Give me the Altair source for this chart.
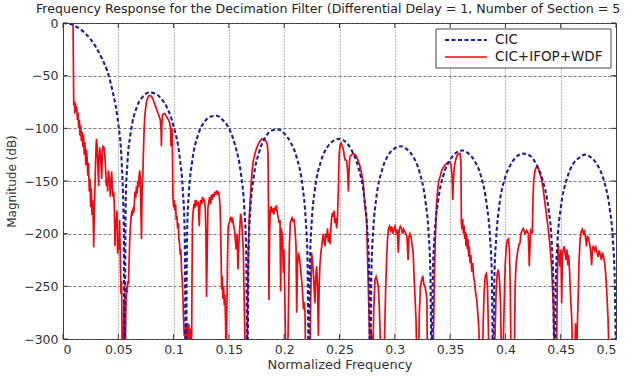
import altair as alt
import pandas as pd

# ---------------------------------------------------------------
# CIC decimator response (5 sections, differential delay 1), dB.
# Values below -300 dB run off the bottom of the axes.
# ---------------------------------------------------------------
cic_main = [(0.0000, 0.0), (0.0050, -0.6), (0.0100, -2.4), (0.0150, -5.4), (0.0200, -9.7),
            (0.0250, -15.6), (0.0300, -23.2), (0.0350, -33.3), (0.0400, -45.5),
            (0.0450, -65.6), (0.0500, -96), (0.0530, -131), (0.0550, -199)]
cic_lobe1 = [(0.0556, -330), (0.0567, -170), (0.0583, -132), (0.0611, -105), (0.0667, -80),
             (0.0722, -70), (0.0778, -66), (0.0833, -67), (0.0889, -72), (0.0944, -81),
             (0.1000, -98), (0.1056, -128), (0.1083, -158), (0.1100, -198)]
cic_lobe2 = [(0.1111, -330), (0.1122, -199), (0.1139, -160), (0.1167, -132), (0.1222, -106),
             (0.1278, -94), (0.1333, -89), (0.1389, -88), (0.1444, -92), (0.1500, -100),
             (0.1556, -116), (0.1611, -145), (0.1639, -175), (0.1656, -215)]
cic_lobe3 = [(0.1667, -330), (0.1678, -216), (0.1694, -177), (0.1722, -148), (0.1778, -121),
             (0.1833, -108), (0.1889, -102), (0.1944, -101), (0.2000, -105), (0.2056, -113),
             (0.2111, -127), (0.2167, -156), (0.2194, -186), (0.2211, -226)]
cic_lobe4 = [(0.2222, -330), (0.2233, -227), (0.2250, -187), (0.2278, -158), (0.2333, -131),
             (0.2389, -118), (0.2444, -112), (0.2500, -110), (0.2556, -113), (0.2611, -121),
             (0.2667, -136), (0.2722, -164), (0.2750, -194), (0.2767, -234)]
cic_lobe5 = [(0.2778, -330), (0.2789, -234), (0.2806, -195), (0.2833, -166), (0.2889, -138),
             (0.2944, -125), (0.3000, -119), (0.3056, -117), (0.3111, -120), (0.3167, -127),
             (0.3222, -141), (0.3278, -170), (0.3306, -200), (0.3322, -239)]
cic_lobe6 = [(0.3333, -330), (0.3344, -239), (0.3361, -200), (0.3389, -171), (0.3444, -143),
             (0.3500, -130), (0.3556, -123), (0.3611, -121), (0.3667, -124), (0.3722, -131),
             (0.3778, -145), (0.3833, -174), (0.3861, -203), (0.3878, -243)]
cic_lobe7 = [(0.3889, -330), (0.3900, -243), (0.3917, -204), (0.3944, -174), (0.4000, -146),
             (0.4056, -133), (0.4111, -126), (0.4167, -124), (0.4222, -126), (0.4278, -134),
             (0.4333, -148), (0.4389, -176), (0.4417, -205), (0.4433, -245)]
cic_lobe8 = [(0.4444, -330), (0.4456, -245), (0.4472, -206), (0.4500, -176), (0.4556, -148),
             (0.4611, -134), (0.4667, -128), (0.4722, -125), (0.4778, -128), (0.4833, -135),
             (0.4889, -149), (0.4944, -177), (0.4972, -206), (0.4989, -246), (0.5000, -330)]

# ---------------------------------------------------------------
# CIC + IFOP + WDF cascade response, dB (measured trace)
# ---------------------------------------------------------------
cas_band1 = [(0.0000, 0), (0.0085, 0), (0.0091, -2), (0.0094, -40), (0.0097, -78), (0.0102, -74),
             (0.0107, -86), (0.0112, -76), (0.0118, -84), (0.0124, -79), (0.0130, -92),
             (0.0136, -85), (0.0142, -100), (0.0148, -92), (0.0154, -107), (0.0160, -97),
             (0.0166, -112), (0.0172, -103), (0.0180, -118), (0.0186, -106), (0.0192, -125),
             (0.0198, -113), (0.0206, -135), (0.0212, -120), (0.0218, -128), (0.0224, -145),
             (0.0230, -133), (0.0238, -160), (0.0244, -148), (0.0250, -175), (0.0256, -157),
             (0.0262, -182), (0.0268, -168), (0.0274, -190), (0.0278, -213), (0.0282, -185),
             (0.0288, -160), (0.0293, -138), (0.0298, -120), (0.0303, -110), (0.0308, -116),
             (0.0313, -130), (0.0318, -142), (0.0322, -155), (0.0326, -128), (0.0332, -118),
             (0.0338, -124), (0.0344, -135), (0.0350, -148), (0.0356, -122), (0.0362, -117),
             (0.0370, -118), (0.0378, -125), (0.0386, -140), (0.0392, -155), (0.0398, -148),
             (0.0404, -160), (0.0410, -140), (0.0416, -145), (0.0422, -150), (0.0428, -165),
             (0.0434, -150), (0.0440, -141), (0.0446, -155), (0.0452, -165), (0.0458, -160),
             (0.0464, -172), (0.0470, -212), (0.0476, -185), (0.0482, -195), (0.0488, -178),
             (0.0494, -219), (0.0500, -205), (0.0506, -215), (0.0512, -187), (0.0518, -225),
             (0.0524, -257), (0.0530, -245), (0.0536, -330), (0.0546, -330), (0.0551, -262),
             (0.0556, -330)]
cas_band2 = [(0.0562, -330), (0.0568, -275), (0.0574, -250), (0.0580, -256), (0.0586, -245),
             (0.0592, -248), (0.0598, -225), (0.0604, -205), (0.0610, -192), (0.0616, -185),
             (0.0622, -178), (0.0628, -183), (0.0634, -175), (0.0640, -180), (0.0646, -168),
             (0.0652, -160), (0.0658, -166), (0.0664, -155), (0.0670, -162), (0.0676, -150),
             (0.0682, -156), (0.0688, -145), (0.0694, -140), (0.0700, -150), (0.0706, -185),
             (0.0710, -205), (0.0714, -170), (0.0718, -150), (0.0722, -145), (0.0728, -120),
             (0.0734, -100), (0.0740, -88), (0.0748, -80), (0.0756, -74), (0.0766, -71),
             (0.0778, -69), (0.0790, -69), (0.0802, -70), (0.0812, -72), (0.0822, -75),
             (0.0832, -78), (0.0844, -81), (0.0856, -85), (0.0868, -88), (0.0880, -92),
             (0.0886, -100), (0.0890, -117), (0.0894, -95), (0.0900, -87), (0.0910, -86),
             (0.0920, -86), (0.0930, -88), (0.0942, -90), (0.0954, -92), (0.0966, -95),
             (0.0972, -100), (0.0976, -117), (0.0980, -103), (0.0986, -100), (0.0990, -130),
             (0.0994, -165), (0.1000, -175), (0.1006, -168), (0.1012, -178), (0.1018, -172),
             (0.1024, -187), (0.1030, -183), (0.1036, -195), (0.1042, -190), (0.1048, -205),
             (0.1054, -210), (0.1060, -220), (0.1066, -215), (0.1072, -235), (0.1078, -244),
             (0.1084, -260), (0.1090, -280), (0.1096, -297), (0.1102, -290), (0.1108, -330)]
cas_band3 = [(0.1114, -288), (0.1120, -330), (0.1126, -285), (0.1132, -292), (0.1138, -286),
             (0.1146, -330), (0.1154, -290), (0.1162, -330), (0.1166, -250), (0.1170, -190),
             (0.1176, -180), (0.1184, -172), (0.1190, -176), (0.1196, -168), (0.1202, -174),
             (0.1210, -170), (0.1218, -172), (0.1224, -171), (0.1232, -193), (0.1238, -175),
             (0.1246, -168), (0.1254, -172), (0.1262, -165), (0.1270, -170), (0.1278, -167),
             (0.1286, -175), (0.1292, -200), (0.1298, -260), (0.1304, -215), (0.1310, -176),
             (0.1318, -170), (0.1326, -165), (0.1334, -172), (0.1342, -163), (0.1350, -168),
             (0.1358, -162), (0.1366, -165), (0.1374, -160), (0.1382, -163), (0.1390, -159),
             (0.1398, -163), (0.1406, -160), (0.1414, -166), (0.1420, -174), (0.1426, -200),
             (0.1434, -253), (0.1440, -240), (0.1446, -262), (0.1452, -250), (0.1458, -268),
             (0.1464, -258), (0.1470, -285), (0.1476, -330), (0.1482, -270), (0.1488, -220),
             (0.1494, -193), (0.1502, -190), (0.1510, -187), (0.1518, -184), (0.1526, -188),
             (0.1534, -186), (0.1542, -192), (0.1550, -196), (0.1558, -206), (0.1566, -215),
             (0.1574, -200), (0.1582, -234), (0.1590, -210), (0.1598, -195), (0.1606, -181),
             (0.1614, -186), (0.1622, -200), (0.1630, -215), (0.1636, -250), (0.1642, -285),
             (0.1650, -330)]
cas_band4 = [(0.1664, -330), (0.1670, -260), (0.1676, -215), (0.1684, -185), (0.1692, -170),
             (0.1700, -155), (0.1710, -140), (0.1722, -130), (0.1736, -124), (0.1750, -119),
             (0.1766, -115), (0.1782, -112), (0.1798, -110), (0.1812, -110), (0.1826, -111),
             (0.1840, -113), (0.1848, -116), (0.1854, -125), (0.1858, -180), (0.1862, -263),
             (0.1868, -200), (0.1874, -178), (0.1882, -174), (0.1890, -180), (0.1898, -176),
             (0.1906, -182), (0.1914, -175), (0.1922, -178), (0.1930, -173), (0.1938, -180),
             (0.1946, -185), (0.1954, -190), (0.1962, -187), (0.1968, -255), (0.1974, -195),
             (0.1980, -200), (0.1986, -205), (0.1992, -237), (0.1998, -215), (0.2004, -250),
             (0.2010, -290), (0.2016, -330), (0.2030, -330), (0.2040, -260), (0.2047, -210),
             (0.2055, -190), (0.2063, -187), (0.2071, -185), (0.2079, -188), (0.2089, -187),
             (0.2098, -196), (0.2107, -212), (0.2113, -275), (0.2120, -230), (0.2128, -218),
             (0.2136, -222), (0.2143, -228), (0.2150, -236), (0.2158, -244), (0.2166, -255),
             (0.2174, -272), (0.2181, -265), (0.2188, -275), (0.2195, -330)]
cas_band5 = [(0.2233, -330), (0.2240, -260), (0.2248, -218), (0.2255, -225), (0.2263, -237),
             (0.2270, -250), (0.2278, -266), (0.2285, -240), (0.2294, -231), (0.2301, -250),
             (0.2309, -297), (0.2316, -250), (0.2324, -228), (0.2332, -218), (0.2339, -212),
             (0.2347, -205), (0.2354, -200), (0.2362, -208), (0.2369, -212), (0.2377, -200),
             (0.2384, -204), (0.2392, -195), (0.2399, -208), (0.2407, -200), (0.2414, -210),
             (0.2421, -195), (0.2429, -185), (0.2437, -180), (0.2444, -184), (0.2452, -178),
             (0.2459, -190), (0.2467, -185), (0.2474, -195), (0.2482, -185), (0.2489, -160),
             (0.2497, -125), (0.2505, -116), (0.2514, -114), (0.2525, -117), (0.2535, -120),
             (0.2543, -126), (0.2550, -130), (0.2558, -130), (0.2565, -131), (0.2573, -140),
             (0.2580, -160), (0.2588, -135), (0.2595, -127), (0.2610, -125), (0.2625, -124),
             (0.2640, -125), (0.2655, -127), (0.2670, -131), (0.2685, -136), (0.2700, -143),
             (0.2715, -152), (0.2730, -174), (0.2745, -187), (0.2752, -215), (0.2760, -250),
             (0.2768, -280), (0.2776, -330)]
cas_band6 = [(0.2784, -290), (0.2792, -300), (0.2800, -330), (0.2810, -270), (0.2821, -244),
             (0.2831, -241), (0.2841, -245), (0.2851, -250), (0.2860, -270), (0.2866, -290),
             (0.2874, -330), (0.2900, -330), (0.2911, -282), (0.2918, -250), (0.2926, -225),
             (0.2934, -205), (0.2942, -196), (0.2952, -193), (0.2962, -197), (0.2972, -193),
             (0.2982, -200), (0.2992, -196), (0.3002, -193), (0.3012, -199), (0.3022, -196),
             (0.3032, -218), (0.3040, -196), (0.3050, -193), (0.3060, -195), (0.3070, -200),
             (0.3080, -196), (0.3090, -198), (0.3100, -200), (0.3110, -203), (0.3120, -225),
             (0.3128, -203), (0.3137, -200), (0.3146, -203), (0.3156, -210), (0.3166, -218),
             (0.3176, -245), (0.3184, -263), (0.3192, -282), (0.3200, -330), (0.3213, -330),
             (0.3222, -276), (0.3232, -250), (0.3243, -244), (0.3253, -240), (0.3263, -248),
             (0.3273, -250), (0.3283, -256), (0.3290, -262), (0.3296, -330)]
cas_band7 = [(0.3345, -330), (0.3352, -280), (0.3360, -230), (0.3368, -200), (0.3376, -175),
             (0.3386, -160), (0.3396, -150), (0.3409, -146), (0.3424, -140), (0.3439, -137),
             (0.3454, -135), (0.3469, -133), (0.3484, -132), (0.3499, -132), (0.3510, -136),
             (0.3518, -145), (0.3524, -168), (0.3530, -150), (0.3538, -137), (0.3550, -130),
             (0.3562, -126), (0.3576, -124), (0.3590, -124), (0.3598, -133), (0.3602, -190),
             (0.3608, -196), (0.3614, -186), (0.3620, -200), (0.3626, -192), (0.3632, -205),
             (0.3638, -198), (0.3644, -212), (0.3650, -200), (0.3656, -215), (0.3662, -205),
             (0.3668, -222), (0.3674, -212), (0.3680, -228), (0.3688, -220), (0.3696, -236),
             (0.3704, -228), (0.3712, -240), (0.3720, -245), (0.3730, -255), (0.3740, -262),
             (0.3750, -275), (0.3760, -290), (0.3768, -330), (0.3790, -330), (0.3800, -282),
             (0.3808, -255), (0.3818, -240), (0.3828, -238), (0.3838, -250), (0.3846, -290),
             (0.3852, -330), (0.3870, -330), (0.3880, -300), (0.3890, -330)]
cas_band8 = [(0.3900, -310), (0.3906, -297), (0.3916, -255), (0.3926, -238), (0.3936, -234),
             (0.3946, -244), (0.3956, -265), (0.3966, -330), (0.3976, -330), (0.3988, -270),
             (0.3998, -230), (0.4008, -212), (0.4018, -206), (0.4028, -205), (0.4036, -215),
             (0.4044, -250), (0.4052, -330), (0.4080, -330), (0.4088, -250), (0.4096, -230),
             (0.4104, -222), (0.4114, -215), (0.4124, -210), (0.4132, -209), (0.4140, -200),
             (0.4150, -197), (0.4162, -195), (0.4177, -200), (0.4192, -197), (0.4207, -200),
             (0.4216, -231), (0.4228, -197), (0.4243, -200), (0.4250, -165), (0.4256, -149),
             (0.4268, -140), (0.4283, -136), (0.4298, -138), (0.4313, -143), (0.4328, -149),
             (0.4343, -159), (0.4358, -171), (0.4373, -184), (0.4388, -196), (0.4404, -212),
             (0.4419, -234), (0.4434, -272), (0.4443, -330)]
cas_band9 = [(0.4458, -330), (0.4464, -300), (0.4470, -240), (0.4478, -210), (0.4486, -222),
             (0.4494, -231), (0.4502, -215), (0.4509, -266), (0.4516, -220), (0.4524, -215),
             (0.4532, -212), (0.4540, -218), (0.4548, -225), (0.4556, -215), (0.4564, -230),
             (0.4572, -220), (0.4580, -235), (0.4590, -260), (0.4600, -282), (0.4610, -330),
             (0.4624, -330), (0.4634, -285), (0.4642, -330), (0.4650, -290), (0.4658, -260),
             (0.4666, -225), (0.4676, -205), (0.4686, -198), (0.4696, -196), (0.4706, -200),
             (0.4716, -198), (0.4726, -205), (0.4734, -212), (0.4742, -202), (0.4752, -205),
             (0.4762, -210), (0.4772, -218), (0.4780, -230), (0.4788, -213), (0.4798, -212),
             (0.4808, -216), (0.4818, -213), (0.4828, -218), (0.4838, -222), (0.4848, -216),
             (0.4858, -220), (0.4868, -225), (0.4878, -218), (0.4888, -222), (0.4898, -228),
             (0.4908, -240), (0.4918, -258), (0.4928, -280), (0.4940, -330), (0.5000, -330)]

series_names = ["CIC", "CIC+IFOP+WDF"]
x_ticks = [0, 0.05, 0.1, 0.15, 0.2, 0.25, 0.3, 0.35, 0.4, 0.45, 0.5]
y_ticks = [0, -50, -100, -150, -200, -250, -300]

TITLE = ("Frequency Response for the Decimation Filter "
         "(Differential Delay = 1, Number of Section = 5")

BLUE = "#1b1f9a"
RED = "#ee0a12"
FONT = "DejaVu Sans"
W, H = 553, 316

cic_df = pd.DataFrame(cic_main + cic_lobe1 + cic_lobe2 + cic_lobe3 + cic_lobe4
                      + cic_lobe5 + cic_lobe6 + cic_lobe7 + cic_lobe8,
                      columns=["freq", "db"])
cas_df = pd.DataFrame(cas_band1 + cas_band2 + cas_band3 + cas_band4 + cas_band5
                      + cas_band6 + cas_band7 + cas_band8 + cas_band9,
                      columns=["freq", "db"])
xt_df = pd.DataFrame({"freq": x_ticks})
yt_df = pd.DataFrame({"db": y_ticks})
one_row = xt_df.head(1)

x_scale = alt.Scale(domain=[0, 0.5], nice=False, zero=False)
y_scale = alt.Scale(domain=[-300, 0], nice=False, zero=False)

axis_text = dict(labelFont=FONT, labelFontSize=12.5, labelColor="#333",
                 titleFont=FONT, titleFontWeight="normal",
                 titleColor="#333", gridColor="#555", gridOpacity=0.8, gridWidth=1,
                 ticks=False, domain=False)

x_enc = alt.X("freq:Q", scale=x_scale,
              axis=alt.Axis(values=x_ticks, format="~g", title="Normalized Frequency",
                            grid=True, gridDash=[1, 2], labelPadding=4, titlePadding=3,
                            titleFontSize=13, **axis_text))
y_enc = alt.Y("db:Q", scale=y_scale,
              axis=alt.Axis(values=y_ticks, format="d", title="Magnitude (dB)",
                            grid=True, gridDash=[3, 2], labelPadding=5, titlePadding=5,
                            titleFontSize=12, **axis_text))

cascade = alt.Chart(cas_df).mark_line(color=RED, strokeWidth=1.7, clip=True).encode(
    x=x_enc, y=y_enc)

cic = alt.Chart(cic_df).mark_line(color=BLUE, strokeWidth=2.1, strokeDash=[4, 2.5],
                                  interpolate="monotone", clip=True).encode(
    x=alt.X("freq:Q", scale=x_scale), y=alt.Y("db:Q", scale=y_scale))

# inward-pointing tick marks on all four sides of the frame
tick_style = dict(color="#333", strokeWidth=1)
ticks_bottom = alt.Chart(xt_df).mark_rule(**tick_style).encode(
    x=alt.X("freq:Q", scale=x_scale), y=alt.value(H), y2=alt.value(H - 5))
ticks_top = alt.Chart(xt_df).mark_rule(**tick_style).encode(
    x=alt.X("freq:Q", scale=x_scale), y=alt.value(0), y2=alt.value(5))
ticks_left = alt.Chart(yt_df).mark_rule(**tick_style).encode(
    y=alt.Y("db:Q", scale=y_scale), x=alt.value(0), x2=alt.value(5))
ticks_right = alt.Chart(yt_df).mark_rule(**tick_style).encode(
    y=alt.Y("db:Q", scale=y_scale), x=alt.value(W), x2=alt.value(W - 5))

# plot title, left-aligned a little outside the frame
title_text = alt.Chart(one_row).mark_text(
    text=TITLE, font=FONT, fontSize=12.6, color="#222",
    align="left", baseline="alphabetic").encode(x=alt.value(-27), y=alt.value(-10))

# legend box in the upper-right corner
lx, ly, lw, lh = 373, 6, 175, 39
legend_box = alt.Chart(one_row).mark_rect(
    fill="white", stroke="#444", strokeWidth=1).encode(
    x=alt.value(lx), x2=alt.value(lx + lw), y=alt.value(ly), y2=alt.value(ly + lh))
leg_cic_line = alt.Chart(one_row).mark_rule(
    color=BLUE, strokeWidth=2.1, strokeDash=[4, 2.5]).encode(
    x=alt.value(lx + 9), x2=alt.value(lx + 51), y=alt.value(ly + 11))
leg_cas_line = alt.Chart(one_row).mark_rule(
    color=RED, strokeWidth=1.7).encode(
    x=alt.value(lx + 9), x2=alt.value(lx + 51), y=alt.value(ly + 28))
leg_cic_text = alt.Chart(one_row).mark_text(
    text=series_names[0], font=FONT, fontSize=13.5, color="#222",
    align="left", baseline="middle").encode(x=alt.value(lx + 59), y=alt.value(ly + 11))
leg_cas_text = alt.Chart(one_row).mark_text(
    text=series_names[1], font=FONT, fontSize=13.5, color="#222",
    align="left", baseline="middle").encode(x=alt.value(lx + 59), y=alt.value(ly + 28))

chart = alt.layer(
    cascade, cic, ticks_bottom, ticks_top, ticks_left, ticks_right, title_text,
    legend_box, leg_cic_line, leg_cas_line, leg_cic_text, leg_cas_text
).properties(
    width=W, height=H,
    background="white",
    autosize=alt.AutoSizeParams(type="none"),
    padding={"left": 63, "top": 23, "right": 19, "bottom": 37},
).configure_view(
    stroke="#333", strokeWidth=1
)

chart.save("out.html", embed_options={"renderer": "svg", "actions": False})
